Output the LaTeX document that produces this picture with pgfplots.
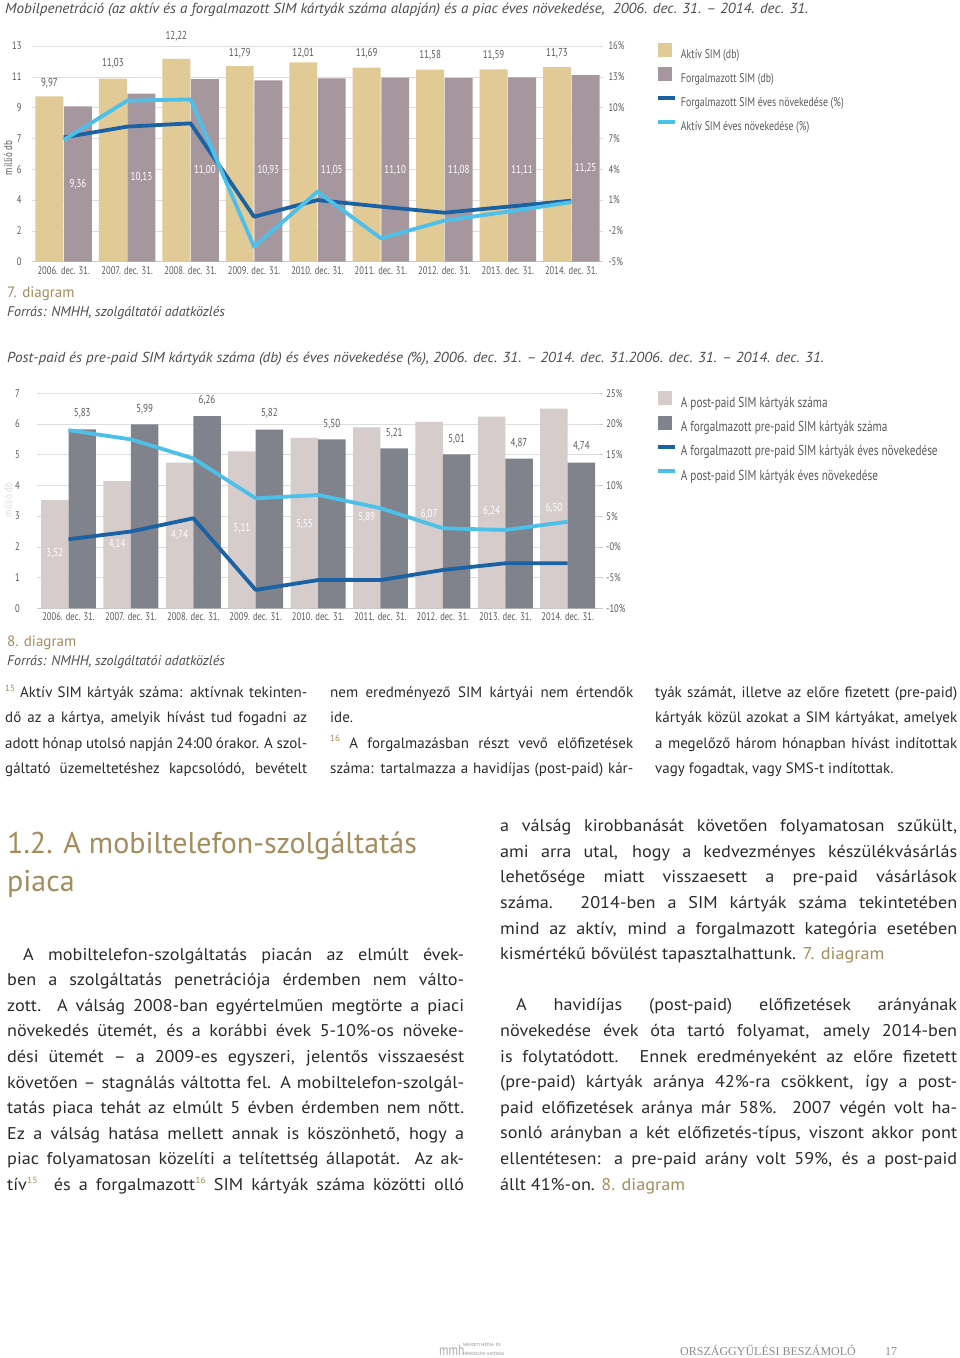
\documentclass[border=0pt]{standalone}
\usepackage{pgfplots}
\pgfplotsset{compat=1.18}
\usepackage{fontspec}
\setmainfont{PT Sans}
\newfontfamily\cond[FakeStretch=0.78]{PT Sans}
\newfontfamily\wideit[FakeStretch=1.04]{PT Sans}
\newfontfamily\bodyf[FakeStretch=1.07]{PT Sans}
\newfontfamily\serf{Liberation Serif}
\definecolor{aktiv}{HTML}{E2CA96}
\definecolor{forg}{HTML}{A6979F}
\definecolor{dblue}{HTML}{1B62A5}
\definecolor{lblue}{HTML}{4DC0EA}
\definecolor{post}{HTML}{D6CCCC}
\definecolor{pre}{HTML}{80838C}
\definecolor{tick}{HTML}{5A5A5A}
\definecolor{gridc}{HTML}{DDDDDD}
\definecolor{axisc}{HTML}{C8C8C8}
\definecolor{brownt}{HTML}{A58C5C}
\definecolor{bodyc}{HTML}{2B2B2B}
\definecolor{ttl}{HTML}{4D4D4D}
\definecolor{footc}{HTML}{8A8A8A}
\newcommand\jl[4]{\node[anchor=base west,inner sep=0pt] at (#1pt,-#2pt) {\makebox[#3pt][s]{#4}};}
\newcommand\pl[3]{\node[anchor=base west,inner sep=0pt] at (#1pt,-#2pt) {#3};}
\newcommand\fsup[1]{{\color{brownt}\raisebox{0.42em}{\fontsize{9}{9}\selectfont #1}}}
\newcommand\sqimg[1]{\fill[#1,draw=none] (0pt,-2.5pt) rectangle (14pt,11.5pt); \path[draw=none,fill=none] (0pt,-2.5pt) rectangle (17pt,11.5pt);}
\newcommand\lnimg[1]{\fill[#1,draw=none] (0pt,2.5pt) rectangle (17pt,6.5pt); \path[draw=none,fill=none] (0pt,-2.5pt) rectangle (17pt,11.5pt);}
\tikzset{
  blab/.style={font=\cond\fontsize{11.5}{12}\selectfont, text=tick},
  wlab/.style={font=\cond\fontsize{11.5}{12}\selectfont, text=white},
}
\pgfplotsset{
  basechart/.style={
    scale only axis, anchor=south west, xmin=-0.5, xmax=8.5, clip=false,
    tick label style={font=\cond\fontsize{11}{12}\selectfont, text=tick},
    major tick length=0pt,
  },
  leftchart/.style={
    basechart,
    axis x line*=bottom, axis y line*=left,
    x axis line style={-, draw=axisc, line width=0.8pt},
    y axis line style={draw=none},
    xtick={0,1,2,3,4,5,6,7,8},
    xticklabels={2006. dec. 31.,2007. dec. 31.,2008. dec. 31.,2009. dec. 31.,2010. dec. 31.,2011. dec. 31.,2012. dec. 31.,2013. dec. 31.,2014. dec. 31.},
    ymajorgrids, grid style={draw=gridc, line width=0.6pt},
  },
  rightchart/.style={
    basechart,
    axis x line=none, axis y line*=right,
    y axis line style={draw=none},
    legend cell align=left,
    legend style={draw=none, fill=none, inner sep=0pt, outer sep=0pt, anchor=north west,
      text=tick, row sep=7pt, column sep=6pt,
      nodes={inner sep=0pt}},
  },
  bars/.style={ybar, bar width=0.44, bar shift=0pt, draw=none},
  lineplot/.style={line width=3.8pt, line join=round},
}
\begin{document}
\begin{tikzpicture}
\path[use as bounding box] (0pt,0pt) rectangle (960pt,-1358pt);
\fill[white] (0pt,0pt) rectangle (960pt,-1358pt);

% ---------- Chart 1 ----------
\node[anchor=base west,inner sep=0pt,text=ttl,font=\wideit\itshape\fontsize{14.5}{16}\selectfont] at (5pt,-13pt)
 {Mobilpenetráció (az aktív és a forgalmazott SIM kártyák száma alapján) és a piac éves növekedése,\ \ 2006. dec. 31. – 2014. dec. 31.};
\node[rotate=90,text=tick,font=\cond\fontsize{11.5}{12}\selectfont] at (8pt,-158pt) {millió db};

\begin{axis}[leftchart, at={(32pt,-261.7pt)}, width=571pt, height=215.7pt,
  ymin=0, ymax=13,
  ytick={0,1.857142857,3.714285714,5.571428571,7.428571429,9.285714286,11.142857143,13},
  yticklabels={0,2,4,6,7,9,11,13},
  yticklabel style={xshift=-7pt},
  xticklabel style={yshift=-1pt}]
\addplot[bars, fill=aktiv] coordinates {(-0.225,9.97) (0.775,11.03) (1.775,12.22) (2.775,11.79) (3.775,12.01) (4.775,11.69) (5.775,11.58) (6.775,11.59) (7.775,11.73)};
\addplot[bars, fill=forg] coordinates {(0.225,9.36) (1.225,10.13) (2.225,11.00) (3.225,10.93) (4.225,11.05) (5.225,11.10) (6.225,11.08) (7.225,11.11) (8.225,11.25)};
\node[blab] at (axis cs:-0.225,10.74) {9,97};
\node[blab] at (axis cs:0.775,11.95) {11,03};
\node[blab] at (axis cs:1.775,13.57) {12,22};
\node[blab] at (axis cs:2.775,12.56) {11,79};
\node[blab] at (axis cs:3.775,12.56) {12,01};
\node[blab] at (axis cs:4.775,12.56) {11,69};
\node[blab] at (axis cs:5.775,12.44) {11,58};
\node[blab] at (axis cs:6.775,12.44) {11,59};
\node[blab] at (axis cs:7.775,12.56) {11,73};
\node[wlab] at (axis cs:0.225,4.68) {9,36};
\node[wlab] at (axis cs:1.225,5.07) {10,13};
\node[wlab] at (axis cs:2.225,5.50) {11,00};
\node[wlab] at (axis cs:3.225,5.50) {10,93};
\node[wlab] at (axis cs:4.225,5.50) {11,05};
\node[wlab] at (axis cs:5.225,5.50) {11,10};
\node[wlab] at (axis cs:6.225,5.50) {11,08};
\node[wlab] at (axis cs:7.225,5.50) {11,11};
\node[wlab] at (axis cs:8.225,5.62) {11,25};
\end{axis}

\begin{axis}[rightchart, at={(32pt,-261.7pt)}, width=571pt, height=215.7pt,
  ymin=-5, ymax=16, ytick={-5,-2,1,4,7,10,13,16},
  yticklabels={-5\%,-2\%,1\%,4\%,7\%,10\%,13\%,16\%},
  yticklabel style={xshift=2pt},
  legend style={at={(1.0963,1.012)}, font=\cond\fontsize{12.6}{15}\selectfont}]
\addlegendimage{legend image code/.code={\sqimg{aktiv}}}
\addlegendentry{Aktív SIM (db)}
\addlegendimage{legend image code/.code={\sqimg{forg}}}
\addlegendentry{Forgalmazott SIM (db)}
\addplot[lineplot, dblue, legend image code/.code={\lnimg{dblue}}] coordinates {(0,7.1) (1,8.15) (2,8.47) (3,-0.62) (4,1.0) (5,0.36) (6,-0.23) (7,0.36) (8,0.94)};
\addlegendentry{Forgalmazott SIM éves növekedése (\%)}
\addplot[lineplot, lblue, legend image code/.code={\lnimg{lblue}}] coordinates {(0,6.85) (1,10.68) (2,10.8) (3,-3.54) (4,1.82) (5,-2.72) (6,-1.0) (7,-0.13) (8,0.8)};
\addlegendentry{Aktív SIM éves növekedése (\%)}
\end{axis}

\pl{7}{297.5}{\color{brownt}\fontsize{15}{16}\selectfont 7. diagram}
\pl{7}{316}{\color{ttl}\itshape\fontsize{14}{15}\selectfont Forrás: NMHH, szolgáltatói adatközlés}

% ---------- Chart 2 ----------
\node[anchor=base west,inner sep=0pt,text=ttl,font=\wideit\itshape\fontsize{14.5}{16}\selectfont] at (7pt,-362pt)
 {Post-paid és pre-paid SIM kártyák száma (db) és éves növekedése (\%), 2006. dec. 31. – 2014. dec. 31.2006. dec. 31. – 2014. dec. 31.};
\node[rotate=90,text=gridc,font=\cond\fontsize{11.5}{12}\selectfont] at (8pt,-500pt) {millió db};

\begin{axis}[leftchart, at={(37.3pt,-608.3pt)}, width=561.6pt, height=215pt,
  ymin=0, ymax=7, ytick={0,1,2,3,4,5,6,7},
  yticklabels={0,1,2,3,4,5,6,7},
  yticklabel style={xshift=-14pt},
  xticklabel style={yshift=-1pt}]
\addplot[bars, fill=post] coordinates {(-0.22,3.52) (0.78,4.14) (1.78,4.74) (2.78,5.11) (3.78,5.55) (4.78,5.89) (5.78,6.07) (6.78,6.24) (7.78,6.50)};
\addplot[bars, fill=pre] coordinates {(0.22,5.83) (1.22,5.99) (2.22,6.26) (3.22,5.82) (4.22,5.50) (5.22,5.21) (6.22,5.01) (7.22,4.87) (8.22,4.74)};
\node[blab] at (axis cs:0.22,6.35) {5,83};
\node[blab] at (axis cs:1.22,6.48) {5,99};
\node[blab] at (axis cs:2.22,6.76) {6,26};
\node[blab] at (axis cs:3.22,6.35) {5,82};
\node[blab] at (axis cs:4.22,5.99) {5,50};
\node[blab] at (axis cs:5.22,5.70) {5,21};
\node[blab] at (axis cs:6.22,5.50) {5,01};
\node[blab] at (axis cs:7.22,5.37) {4,87};
\node[blab] at (axis cs:8.22,5.26) {4,74};
\node[wlab] at (axis cs:-0.22,1.79) {3,52};
\node[wlab] at (axis cs:0.78,2.09) {4,14};
\node[wlab] at (axis cs:1.78,2.39) {4,74};
\node[wlab] at (axis cs:2.78,2.61) {5,11};
\node[wlab] at (axis cs:3.78,2.75) {5,55};
\node[wlab] at (axis cs:4.78,2.96) {5,89};
\node[wlab] at (axis cs:5.78,3.05) {6,07};
\node[wlab] at (axis cs:6.78,3.15) {6,24};
\node[wlab] at (axis cs:7.78,3.26) {6,50};
\end{axis}

\begin{axis}[rightchart, at={(37.3pt,-608.3pt)}, width=561.6pt, height=215pt,
  ymin=-10, ymax=25, ytick={-10,-5,0,5,10,15,20,25},
  yticklabels={-10\%,-5\%,-0\%,5\%,10\%,15\%,20\%,25\%},
  major tick length=4pt, tick align=outside, ytick style={draw=axisc, line width=0.6pt},
  yticklabel style={xshift=0pt},
  legend style={at={(1.105,1.01)}, font=\cond\fontsize{14.4}{15}\selectfont}]
\addlegendimage{legend image code/.code={\sqimg{post}}}
\addlegendentry{A post-paid SIM kártyák száma}
\addlegendimage{legend image code/.code={\sqimg{pre}}}
\addlegendentry{A forgalmazott pre-paid SIM kártyák száma}
\addplot[lineplot, dblue, legend image code/.code={\lnimg{dblue}}] coordinates {(0,1.24) (1,2.5) (2,4.66) (3,-7.0) (4,-5.4) (5,-5.4) (6,-3.76) (7,-2.67) (8,-2.67)};
\addlegendentry{A forgalmazott pre-paid SIM kártyák éves növekedése}
\addplot[lineplot, lblue, legend image code/.code={\lnimg{lblue}}] coordinates {(0,19.0) (1,17.5) (2,14.4) (3,7.9) (4,8.45) (5,6.3) (6,3.03) (7,2.75) (8,4.1)};
\addlegendentry{A post-paid SIM kártyák éves növekedése}
\end{axis}

\pl{7}{646}{\color{brownt}\fontsize{15}{16}\selectfont 8. diagram}
\pl{7}{665}{\color{ttl}\itshape\fontsize{14}{15}\selectfont Forrás: NMHH, szolgáltatói adatközlés}

% ---------- Footnotes ----------
\begin{scope}[font=\fontsize{15}{17}\selectfont, text=bodyc]
\jl{5}{697.3}{302}{\fsup{15} Aktív SIM kártyák száma: aktívnak tekinten-}
\jl{5}{722.7}{302}{dő az a kártya, amelyik hívást tud fogadni az}
\jl{5}{748.1}{302}{adott hónap utolsó napján 24:00 órakor. A szol-}
\jl{5}{773.5}{302}{gáltató üzemeltetéshez kapcsolódó, bevételt}
\jl{330}{697.3}{303}{nem eredményező SIM kártyái nem értendők}
\pl{330}{722.7}{ide.}
\jl{330}{748.1}{303}{\fsup{16} A forgalmazásban részt vevő előfizetések}
\jl{330}{773.5}{303}{száma: tartalmazza a havidíjas (post-paid) kár-}
\jl{655}{697.3}{302}{tyák számát, illetve az előre fizetett (pre-paid)}
\jl{655}{722.7}{302}{kártyák közül azokat a SIM kártyákat, amelyek}
\jl{655}{748.1}{302}{a megelőző három hónapban hívást indítottak}
\pl{655}{773.5}{vagy fogadtak, vagy SMS-t indítottak.}
\end{scope}

% ---------- Heading ----------
\pl{7}{853.3}{\color{brownt}\fontsize{30}{34}\selectfont 1.2. A mobiltelefon-szolgáltatás}
\pl{7}{891.5}{\color{brownt}\fontsize{30}{34}\selectfont piaca}

% ---------- Body ----------
\begin{scope}[font=\bodyf\fontsize{17}{19}\selectfont, text=bodyc]
\jl{23}{960}{441}{A mobiltelefon-szolgáltatás piacán az elmúlt évek-}
\jl{7}{985.6}{457}{ben a szolgáltatás penetrációja érdemben nem válto-}
\jl{7}{1011.2}{457}{zott. A válság 2008-ban egyértelműen megtörte a piaci}
\jl{7}{1036.8}{457}{növekedés ütemét, és a korábbi évek 5-10\%-os növeke-}
\jl{7}{1062.4}{457}{dési ütemét – a 2009-es egyszeri, jelentős visszaesést}
\jl{7}{1088.0}{457}{követően – stagnálás váltotta fel. A mobiltelefon-szolgál-}
\jl{7}{1113.6}{457}{tatás piaca tehát az elmúlt 5 évben érdemben nem nőtt.}
\jl{7}{1139.2}{457}{Ez a válság hatása mellett annak is köszönhető, hogy a}
\jl{7}{1164.8}{457}{piac folyamatosan közelíti a telítettség állapotát. Az ak-}
\jl{7}{1190.4}{457}{tív\fsup{15}\ \ és a forgalmazott\fsup{16} SIM kártyák száma közötti olló}

\jl{500}{831.7}{457}{a válság kirobbanását követően folyamatosan szűkült,}
\jl{500}{857.3}{457}{ami arra utal, hogy a kedvezményes készülékvásárlás}
\jl{500}{882.9}{457}{lehetősége miatt visszaesett a pre-paid vásárlások}
\jl{500}{908.5}{457}{száma. 2014-ben a SIM kártyák száma tekintetében}
\jl{500}{934.1}{457}{mind az aktív, mind a forgalmazott kategória esetében}
\pl{500}{959.7}{kismértékű bővülést tapasztalhattunk. {\color{brownt}7. diagram}}
\jl{516}{1010.9}{441}{A havidíjas (post-paid) előfizetések arányának}
\jl{500}{1036.5}{457}{növekedése évek óta tartó folyamat, amely 2014-ben}
\jl{500}{1062.1}{457}{is folytatódott. Ennek eredményeként az előre fizetett}
\jl{500}{1087.7}{457}{(pre-paid) kártyák aránya 42\%-ra csökkent, így a post-}
\jl{500}{1113.3}{457}{paid előfizetések aránya már 58\%. 2007 végén volt ha-}
\jl{500}{1138.9}{457}{sonló arányban a két előfizetés-típus, viszont akkor pont}
\jl{500}{1164.5}{457}{ellentétesen: a pre-paid arány volt 59\%, és a post-paid}
\pl{500}{1190.1}{állt 41\%-on. {\color{brownt}8. diagram}}
\end{scope}

% ---------- Footer ----------
\node[anchor=base west,inner sep=0pt,text=footc!70,font=\cond\fontsize{15}{15}\selectfont] at (439pt,-1355pt) {mmh};
\node[anchor=base west,inner sep=0pt,text=footc,font=\fontsize{4.3}{5}\selectfont] at (463pt,-1346pt) {NEMZETI MÉDIA- ÉS};
\node[anchor=base west,inner sep=0pt,text=footc,font=\fontsize{4.3}{5}\selectfont] at (463pt,-1355.5pt) {HÍRKÖZLÉSI HATÓSÁG};
\node[anchor=base west,inner sep=0pt,text=footc,font=\serf\fontsize{12}{12}\selectfont] at (680pt,-1355pt) {ORSZÁGGYŰLÉSI BESZÁMOLÓ};
\node[anchor=base west,inner sep=0pt,text=footc,font=\serf\fontsize{12}{12}\selectfont] at (885pt,-1355pt) {17};
\end{tikzpicture}
\end{document}
